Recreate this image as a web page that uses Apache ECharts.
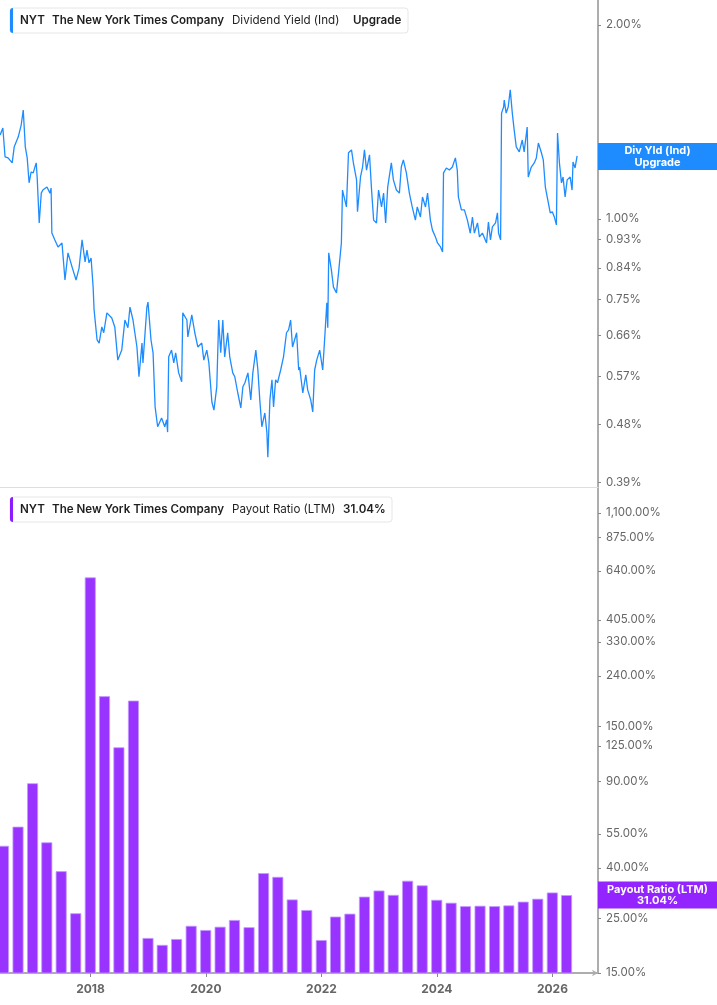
<!DOCTYPE html>
<html>
<head>
<meta charset="utf-8">
<title>NYT Dividend Yield / Payout Ratio</title>
<script src="https://cdn.jsdelivr.net/npm/echarts@6/dist/echarts.min.js"></script>
<style>
  html, body { margin: 0; padding: 0; background: #fff; }
  #chart { width: 717px; height: 1005px; }
</style>
</head>
<body>
<div id="chart"></div>
<script>
// Dividend Yield (Ind), in %
const yieldDates = [
  '2016-06-09','2016-06-26','2016-07-10','2016-07-29','2016-08-24','2016-09-06','2016-10-01','2016-10-20','2016-11-02','2016-11-15',
  '2016-11-27','2016-12-09','2016-12-22','2017-01-04','2017-01-23','2017-01-29','2017-02-11','2017-02-24','2017-03-06','2017-04-01',
  '2017-04-20','2017-04-27','2017-05-02','2017-05-21','2017-06-10','2017-07-05','2017-07-24','2017-08-12','2017-09-07','2017-10-02',
  '2017-10-21','2017-11-09','2017-11-28','2017-12-10','2017-12-23','2018-01-05','2018-01-18','2018-01-24','2018-02-12','2018-02-25',
  '2018-03-14','2018-03-26','2018-04-15','2018-05-16','2018-06-04','2018-06-23','2018-07-18','2018-08-07','2018-08-26','2018-09-08',
  '2018-09-27','2018-10-22','2018-11-04','2018-11-23','2018-11-29','2018-12-24','2018-12-31','2019-01-19','2019-02-01','2019-02-14',
  '2019-03-02','2019-03-27','2019-04-16','2019-04-28','2019-05-04','2019-05-11','2019-05-29','2019-06-12','2019-06-24','2019-07-13',
  '2019-08-01','2019-08-08','2019-09-03','2019-09-09','2019-10-04','2019-10-23','2019-11-11','2019-12-06','2019-12-19','2020-01-07',
  '2020-01-20','2020-02-08','2020-02-21','2020-03-10','2020-03-22','2020-04-04','2020-04-17','2020-04-29','2020-05-18','2020-05-31',
  '2020-06-19','2020-07-02','2020-07-21','2020-08-09','2020-08-22','2020-09-04','2020-09-23','2020-10-11','2020-10-24','2020-11-12',
  '2020-11-25','2020-12-07','2020-12-20','2021-01-08','2021-01-21','2021-01-27','2021-02-09','2021-02-22','2021-03-04','2021-03-17',
  '2021-03-29','2021-04-18','2021-05-06','2021-05-25','2021-06-07','2021-06-20','2021-07-02','2021-07-28','2021-08-10','2021-08-16',
  '2021-09-05','2021-09-24','2021-10-06','2021-10-25','2021-11-07','2021-11-19','2021-12-02','2021-12-21','2022-01-09','2022-01-22',
  '2022-02-04','2022-02-10','2022-02-16','2022-03-05','2022-03-18','2022-04-06','2022-04-19','2022-05-07','2022-05-14','2022-06-08',
  '2022-06-21','2022-07-10','2022-07-22','2022-08-11','2022-08-17','2022-09-05','2022-09-18','2022-09-30','2022-10-13','2022-11-01',
  '2022-11-14','2022-11-27','2022-12-15','2022-12-28','2023-01-16','2023-01-29','2023-02-11','2023-02-24','2023-03-19','2023-04-01',
  '2023-04-20','2023-05-09','2023-05-21','2023-06-03','2023-06-22','2023-07-11','2023-07-29','2023-08-18','2023-08-30','2023-09-19',
  '2023-10-02','2023-10-21','2023-11-03','2023-11-21','2023-12-04','2023-12-23','2024-01-05','2024-01-24','2024-02-06','2024-02-12',
  '2024-03-01','2024-03-20','2024-04-08','2024-04-27','2024-05-09','2024-05-16','2024-06-04','2024-06-23','2024-07-12','2024-07-30',
  '2024-08-13','2024-08-25','2024-09-14','2024-09-26','2024-10-15','2024-11-10','2024-11-22','2024-12-05','2024-12-17','2025-01-06',
  '2025-01-18','2025-01-25','2025-02-07','2025-02-13','2025-02-26','2025-03-02','2025-03-14','2025-03-27','2025-04-09','2025-04-22',
  '2025-05-04','2025-05-17','2025-06-05','2025-06-24','2025-07-06','2025-07-25','2025-08-01','2025-08-20','2025-09-08','2025-09-21',
  '2025-10-04','2025-10-23','2025-11-04','2025-11-17','2025-11-29','2025-12-18','2025-12-31','2026-01-13','2026-01-26','2026-02-02',
  '2026-02-14','2026-02-27','2026-03-09','2026-03-22','2026-04-04','2026-04-23','2026-05-05','2026-05-11','2026-05-24','2026-06-06'
];
const yieldValues = [
  1.350,1.384,1.249,1.244,1.222,1.294,1.340,1.399,1.476,1.294,
  1.244,1.138,1.183,1.179,1.222,1.162,0.986,1.097,1.109,1.121,
  1.097,1.117,0.951,0.928,0.905,0.918,0.804,0.886,0.842,0.804,
  0.839,0.928,0.858,0.895,0.855,0.870,0.784,0.723,0.649,0.642,
  0.680,0.666,0.715,0.702,0.680,0.604,0.626,0.697,0.678,0.730,
  0.697,0.633,0.569,0.642,0.598,0.730,0.743,0.649,0.620,0.511,
  0.476,0.491,0.476,0.488,0.467,0.611,0.626,0.598,0.620,0.577,
  0.559,0.715,0.697,0.656,0.710,0.666,0.633,0.642,0.604,0.626,
  0.598,0.520,0.505,0.549,0.697,0.620,0.697,0.611,0.666,0.611,
  0.577,0.569,0.537,0.509,0.549,0.557,0.577,0.524,0.577,0.626,
  0.583,0.524,0.476,0.500,0.466,0.427,0.524,0.563,0.511,0.563,
  0.557,0.583,0.611,0.666,0.673,0.697,0.633,0.666,0.583,0.589,
  0.537,0.573,0.543,0.524,0.502,0.583,0.604,0.626,0.583,0.656,
  0.741,0.678,0.886,0.833,0.784,0.768,0.825,0.918,1.109,1.044,
  1.267,1.280,1.222,1.150,1.026,1.162,1.204,1.280,1.191,1.258,
  1.109,0.996,0.986,1.109,1.044,1.097,0.986,1.121,1.222,1.150,
  1.109,1.097,1.204,1.235,1.179,1.097,1.044,0.996,1.044,1.007,
  1.082,1.044,1.097,0.996,0.961,0.938,0.918,0.905,0.889,1.179,
  1.200,1.191,1.204,1.244,1.191,1.082,1.033,1.033,0.996,0.951,
  1.007,0.951,0.986,0.938,0.951,0.918,0.989,0.928,0.972,0.986,
  1.022,0.951,0.928,1.460,1.492,1.530,1.460,1.492,1.586,1.460,
  1.374,1.294,1.271,1.326,1.271,1.389,1.162,1.204,1.222,1.244,
  1.312,1.267,1.235,1.121,1.117,1.022,1.026,1.007,0.979,1.360,
  1.222,1.138,1.162,1.082,1.150,1.162,1.109,1.226,1.200,1.253
];

// Payout Ratio (LTM), in %, quarterly
const payoutDates = [
  '2016-06-30','2016-09-30','2016-12-31','2017-03-31','2017-06-30','2017-09-30','2017-12-31','2018-03-31',
  '2018-06-30','2018-09-30','2018-12-31','2019-03-31','2019-06-30','2019-09-30','2019-12-31','2020-03-31',
  '2020-06-30','2020-09-30','2020-12-31','2021-03-31','2021-06-30','2021-09-30','2021-12-31','2022-03-31',
  '2022-06-30','2022-09-30','2022-12-31','2023-03-31','2023-06-30','2023-09-30','2023-12-31','2024-03-31',
  '2024-06-30','2024-09-30','2024-12-31','2025-03-31','2025-06-30','2025-09-30','2025-12-31','2026-03-31'
];
const payoutValues = [
  49.2, 58.8, 88.2, 50.8, 38.8, 26.2, 603, 198.8,
  123.4, 190.8, 20.8, 19.5, 20.6, 23.3, 22.4, 23.1,
  24.6, 23.0, 38.1, 36.8, 29.8, 27.0, 20.4, 25.4,
  26.1, 30.6, 32.4, 31.1, 35.5, 34.0, 29.7, 28.9,
  28.0, 28.1, 28.0, 28.2, 29.2, 30.0, 31.8, 31.04
];

// axis tick labels
const yieldTicks = [2, 1, 0.93, 0.84, 0.75, 0.66, 0.57, 0.48, 0.39];
const payoutTicks = [1100, 875, 640, 405, 330, 240, 150, 125, 90, 55, 40, 25, 15];
const yearTicks = [2018, 2020, 2022, 2024, 2026];

const BLUE = '#1e8cff';
const PURPLE = '#9933ff';
const FONT = 'Inter, "Noto Sans", sans-serif';

// x 轴用时间戳（数值轴），便于自定义年份刻度
const ts = s => Date.parse(s);
const xMin = ts('2016-06-08');
const xMax = ts('2026-10-16');
const yearStamps = yearTicks.map(y => ts(y + '-01-01'));

const pct = v => Number(v).toLocaleString('en-US', { minimumFractionDigits: 2, maximumFractionDigits: 2 }) + '%';

const yieldData = yieldDates.map((d, i) => [ts(d), yieldValues[i]]);
const payoutData = payoutDates.map((d, i) => [ts(d), payoutValues[i]]);

// 右侧 y 轴的公共样式
const yAxisBase = {
  type: 'log',
  logBase: 10,
  position: 'right',
  splitLine: { show: false },
  axisLine: { show: true, lineStyle: { color: '#adadad', width: 2 } },
  axisTick: { show: true, length: 3, lineStyle: { color: '#888' } },
  axisLabel: { color: '#666', fontSize: 11.5, fontFamily: FONT, margin: 8, formatter: pct }
};

// 最新值标签（贴在右侧坐标轴上）
function lastValueLine(value, text, bg) {
  return {
    silent: true, symbol: 'none',
    lineStyle: { color: 'rgba(0,0,0,0)', width: 1 },
    data: [{ yAxis: value }],
    label: {
      show: true, position: 'end', distance: 0,
      formatter: text.map(t => '{t|' + t + '}').join('\n'),
      backgroundColor: bg, padding: [2, 0, 2, 0],
      rich: { t: { width: 119, align: 'center', color: '#fff', fontWeight: 'bold', fontSize: 11, lineHeight: 11.5, fontFamily: FONT } }
    }
  };
}

// legend box (rect + left colour strip + texts)
function legendBox(y, w, color, parts) {
  const children = [
    { type: 'rect', shape: { x: 10, y: y, width: w, height: 25, r: 3 },
      style: { fill: '#fff', stroke: '#e6e6e6', lineWidth: 1 } },
    { type: 'rect', shape: { x: 10, y: y, width: 3, height: 25, r: [3, 0, 0, 3] },
      style: { fill: color } }
  ];
  parts.forEach(p => {
    children.push({
      type: 'text', x: p[0], y: y + 12.5,
      style: { text: p[1], fill: '#1f1f1f', font: (p[2] ? '600 ' : '400 ') + '11.6px ' + FONT, verticalAlign: 'middle' }
    });
  });
  return { type: 'group', silent: true, children: children };
}

const chart = echarts.init(document.getElementById('chart'));

const lastYield = yieldValues[yieldValues.length - 1];
const lastPayout = payoutValues[payoutValues.length - 1];

const option = {
  animation: false,
  backgroundColor: '#fff',
  grid: [
    { left: 0, right: 119, top: 0, height: 487 },
    { left: 0, right: 119, top: 487, bottom: 32 }
  ],
  xAxis: [
    {
      type: 'value', gridIndex: 0, min: xMin, max: xMax,
      axisLine: { show: true, lineStyle: { color: '#dedede', width: 1 } },
      axisTick: { show: false }, axisLabel: { show: false }, splitLine: { show: false }
    },
    {
      type: 'value', gridIndex: 1, min: xMin, max: xMax,
      axisLine: { show: true, symbol: ['none', 'arrow'], symbolSize: [5, 6], lineStyle: { color: '#adadad', width: 2 } },
      axisTick: { show: true, length: 4, customValues: yearStamps, lineStyle: { color: '#888' } },
      axisLabel: {
        customValues: yearStamps, color: '#666', fontSize: 12, fontWeight: 'bold', fontFamily: FONT, margin: 10,
        formatter: v => String(new Date(v).getUTCFullYear())
      },
      splitLine: { show: false }
    }
  ],
  yAxis: [
    Object.assign({}, yAxisBase, {
      gridIndex: 0, min: 0.3838, max: 2.187,
      axisTick: Object.assign({}, yAxisBase.axisTick, { customValues: yieldTicks }),
      axisLabel: Object.assign({}, yAxisBase.axisLabel, { customValues: yieldTicks })
    }),
    Object.assign({}, yAxisBase, {
      gridIndex: 1, min: 15, max: 1402,
      axisTick: Object.assign({}, yAxisBase.axisTick, { customValues: payoutTicks }),
      axisLabel: Object.assign({}, yAxisBase.axisLabel, { customValues: payoutTicks })
    })
  ],
  series: [
    {
      name: 'Dividend Yield (Ind)',
      type: 'line',
      xAxisIndex: 0, yAxisIndex: 0,
      data: yieldData,
      showSymbol: false,
      lineStyle: { color: BLUE, width: 1.3 },
      itemStyle: { color: BLUE },
      markLine: lastValueLine(lastYield, ['Div Yld (Ind)', 'Upgrade'], BLUE)
    },
    {
      name: 'Payout Ratio (LTM)',
      type: 'bar',
      xAxisIndex: 1, yAxisIndex: 1,
      data: payoutData,
      barWidth: 11,
      itemStyle: { color: PURPLE, borderColor: '#c39aff', borderWidth: 0.8 },
      markLine: lastValueLine(lastPayout, ['Payout Ratio (LTM)', pct(lastPayout)], '#9424ff')
    }
  ],
  graphic: [
    legendBox(8, 398, BLUE, [
      [20, 'NYT', true], [52, 'The New York Times Company', true], [232, 'Dividend Yield (Ind)', false], [353, 'Upgrade', true]
    ]),
    legendBox(497, 382, '#8c1cff', [
      [20, 'NYT', true], [52, 'The New York Times Company', true], [232, 'Payout Ratio (LTM)', false],
      [343, pct(lastPayout), true]
    ])
  ]
};

chart.setOption(option);
window.addEventListener('resize', () => chart.resize());
</script>
</body>
</html>
